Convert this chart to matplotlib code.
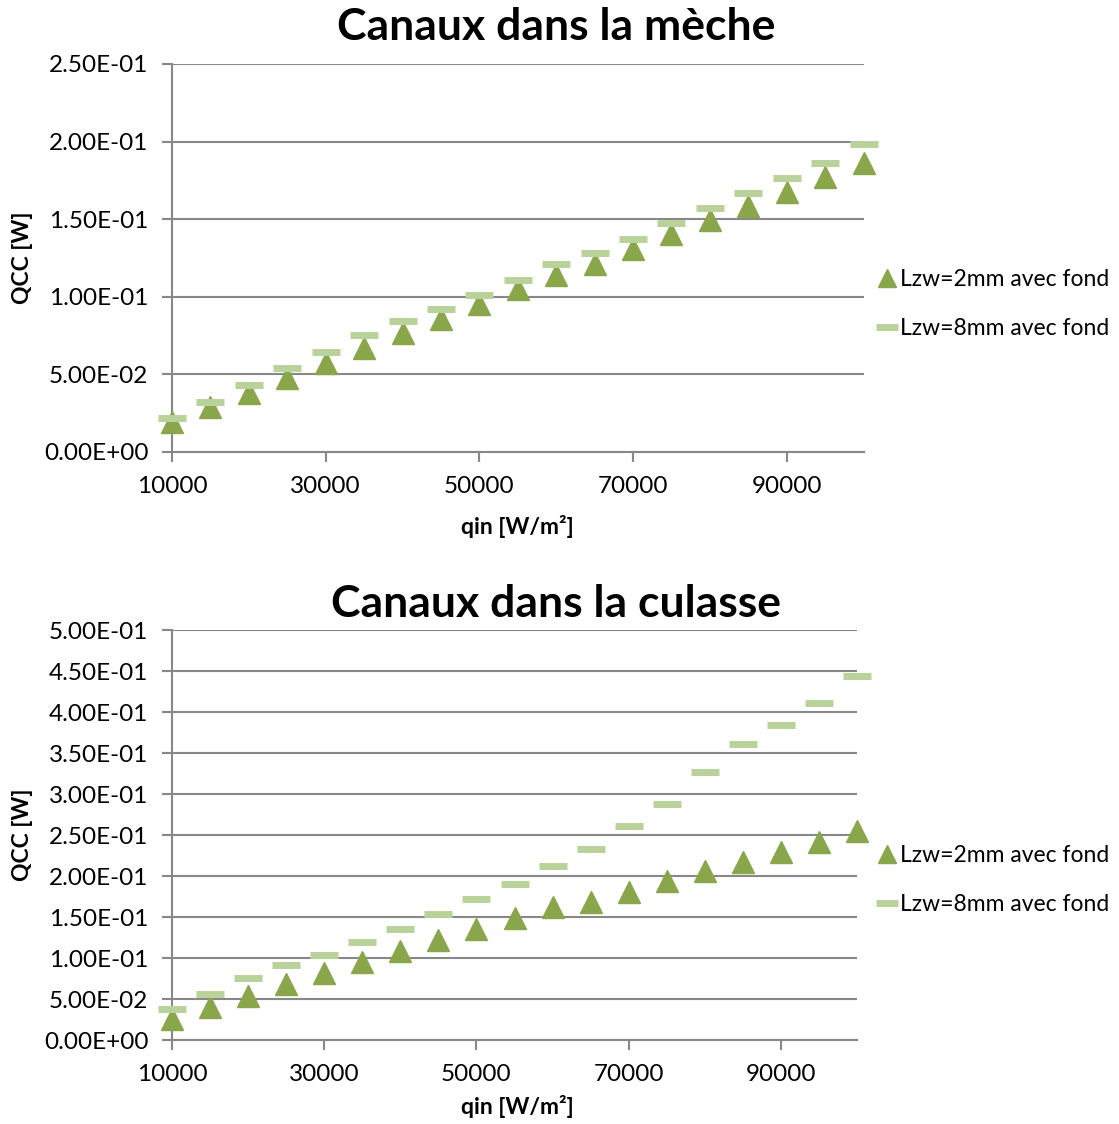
import numpy as np
import matplotlib
matplotlib.use("Agg")
import matplotlib.pyplot as plt
from matplotlib.ticker import FuncFormatter, MultipleLocator

plt.rcParams['font.family'] = ['Lato', 'DejaVu Sans']

qin = [10000, 15000, 20000, 25000, 30000, 35000, 40000, 45000, 50000, 55000,
       60000, 65000, 70000, 75000, 80000, 85000, 90000, 95000, 100000]
qin_ticks = [10000, 30000, 50000, 70000, 90000]

# wick channels
meche_2mm = [0.0193, 0.0288, 0.0380, 0.0475, 0.0573, 0.0670, 0.0765, 0.0859, 0.0955, 0.1048,
             0.1143, 0.1211, 0.1310, 0.1402, 0.1495, 0.1587, 0.1677, 0.1772, 0.1864]
meche_8mm = [0.0217, 0.0324, 0.0432, 0.0539, 0.0644, 0.0752, 0.0844, 0.0921, 0.1014, 0.1108,
             0.1209, 0.1284, 0.1375, 0.1478, 0.1574, 0.1667, 0.1768, 0.1860, 0.1982]

# yoke channels
culasse_2mm = [0.0260, 0.0406, 0.0540, 0.0679, 0.0813, 0.0947, 0.1085, 0.1216, 0.1354, 0.1488,
               0.1626, 0.1687, 0.1809, 0.1943, 0.2061, 0.2171, 0.2293, 0.2415, 0.2545]
culasse_8mm = [0.0378, 0.0565, 0.0752, 0.0915, 0.1040, 0.1199, 0.1350, 0.1540, 0.1723, 0.1898,
               0.2126, 0.2333, 0.2610, 0.2878, 0.3268, 0.3610, 0.3841, 0.4114, 0.4439]

labels = ['Lzw=2mm avec fond', 'Lzw=8mm avec fond']
green_dark = '#8aa64b'
green_light = '#b9d29a'
grid_col = '#888888'

fig = plt.figure(figsize=(11.19, 11.24), dpi=100)


def draw(rect, y2, y8, ymax, ystep, title, title_y, xlab_y, leg_y):
    ax = fig.add_axes(rect)
    ax.plot(qin, y2, linestyle='none', marker='^', markersize=16,
            color=green_dark, label=labels[0], zorder=3, clip_on=False)
    ax.plot(qin, y8, linestyle='none', marker='_', markersize=20, markeredgewidth=5,
            color=green_light, label=labels[1], zorder=4, clip_on=False)
    ax.set_xlim(10000, 100000)
    ax.set_ylim(0, ymax)
    ax.set_xticks(qin_ticks)
    ax.yaxis.set_major_locator(MultipleLocator(ystep))
    ax.yaxis.set_major_formatter(FuncFormatter(lambda v, p: f'{v:.2E}'))
    ax.grid(axis='y', color=grid_col, linewidth=1.5)
    ax.set_axisbelow(True)
    for s in ['top', 'right']:
        ax.spines[s].set_visible(False)
    for s in ['left', 'bottom']:
        ax.spines[s].set_color(grid_col)
        ax.spines[s].set_linewidth(1.5)
    ax.tick_params(colors=grid_col, width=1.5, length=7, pad=10, labelsize=17.5, labelcolor='black')
    fig.text(0.497, title_y, title, fontsize=32, fontweight='bold', ha='center', va='center')
    fig.text(0.462, xlab_y, 'qin [W/m²]', fontsize=16.5, fontweight='bold', ha='center', va='center')
    fig.text(0.020, rect[1] + rect[3] / 2, 'QCC [W]', fontsize=16.5, fontweight='bold',
             rotation=90, ha='center', va='center')
    ax.legend(loc='center left', bbox_to_anchor=(0.775, leg_y), bbox_transform=fig.transFigure,
              frameon=False, fontsize=16.5, handlelength=0.75, handletextpad=0.2,
              markerscale=0.8, labelspacing=1.25, borderpad=0)
    return ax


draw([0.1537, 0.5979, 0.618, 0.3452], meche_2mm, meche_8mm, 0.25, 0.05,
     'Canaux dans la mèche', 1 - 27 / 1124, 1 - 527 / 1124, 1 - 304 / 1124)
draw([0.1537, 0.0747, 0.6122, 0.3648], culasse_2mm, culasse_8mm, 0.5, 0.05,
     'Canaux dans la culasse', 1 - 604 / 1124, 1 - 1107 / 1124, 1 - 880 / 1124)

fig.savefig('out.png', dpi=100)
